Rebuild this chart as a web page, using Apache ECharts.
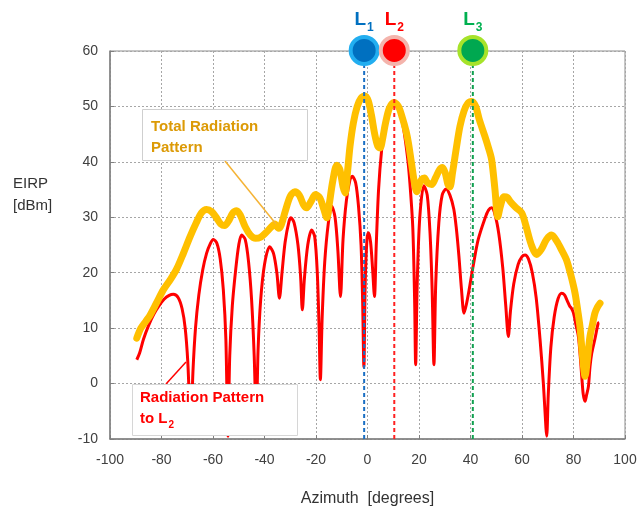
<!DOCTYPE html>
<html>
<head>
<meta charset="utf-8">
<script src="https://cdn.jsdelivr.net/npm/echarts@6/dist/echarts.min.js"></script>
<style>
html,body{margin:0;padding:0;background:#fff;}
#main{width:643px;height:515px;}
</style>
</head>
<body>
<div id="main"></div>
<script>
// ---- data ----
var xTicks = [-100, -80, -60, -40, -20, 0, 20, 40, 60, 80, 100];
var yTicks = [-10, 0, 10, 20, 30, 40, 50, 60];

// Radiation pattern to L2 (red)
var redAz = [-89.6,-88.5,-87,-85,-83,-81,-79,-77,-75.4,-73.5,-72,-70.8,-69.8,-68.6,-67.8,-66.8,-65.5,-64,-62.5,-61,-59.9,-58.5,-57.2,-56,-55,-54.2,-53.5,-52.5,-51.2,-50,-48.9,-47.5,-46.2,-45,-44,-43.2,-42.5,-41.5,-40,-38,-36.5,-35.2,-34.2,-33.2,-32,-30.5,-29.7,-28.5,-27,-26,-25.3,-24.5,-23.2,-21.7,-20.5,-19.5,-18.8,-18.3,-17.6,-16.6,-15.2,-13.9,-12.6,-11.5,-10.5,-9.5,-8.2,-6.8,-5.9,-4.6,-3.5,-2.5,-1.9,-1.4,-0.9,-0.2,0.4,1.2,2.0,2.7,3.4,4.3,5.5,7,8.5,10.3,12,13.8,15.5,16.5,17.6,18.3,18.7,19.3,20.3,21.9,23.2,24.3,25.1,25.8,26.5,27.7,29,30.5,32,33.5,34.5,35.5,36.5,37.5,38.5,39.5,41.1,43,45.6,47,48.2,49.5,51,52.5,53.7,54.7,55.5,56.8,58.5,60,61.2,62.5,64,65.5,67,68.3,69.3,69.6,70.2,71.2,72.5,74,75.4,76.5,77.5,78.5,79.3,80,81,81.9,82.6,83.2,83.8,84.5,85.1,85.8,86.4,87.1,88.3,89.6,90];
var redEirp = [4.3,5.5,8,10.5,12.5,14,15.2,15.9,16.1,15.5,13.5,10,4,-8,2,10,16,20.5,23.5,25.3,26,25.3,22.5,17,8,-9.5,5,14,20.5,25,26.8,26,22,15,5,-7,6,15,21.5,24.7,23.5,20,15.4,20,25.5,29.2,29.9,29,25,19.5,13.3,19,25,27.7,26.5,20,10,0.7,12,22,29,32,30,24,15.7,26,33,36.8,37.4,36.2,32,25,15,3,18,26,27.2,25.5,20.5,15.7,25,35,42.2,47.5,50,50.7,49.8,46.5,41,36,28,15,3.4,18,30,35.7,34,27,17,3.4,18,29,34,35.1,34,31.5,28,23,17,12.7,14.5,17,21.4,26,29.8,31.3,31.7,30.5,27,21,14,8.5,13,18,21.5,22.9,23.2,22.5,20,15.5,8,0,-8,-9.5,-2,6.5,12,15.3,16.3,16,15,14,13.5,12.7,10.5,8.5,5,1.3,-2,-3.2,-2,-0.5,3,5.5,8,10.9,11];

// Total radiation pattern (orange)
var totalAz = [-89.6,-88,-86,-84.5,-82,-79.3,-76.5,-74.1,-71.5,-68.9,-66.5,-64.5,-62.5,-60.5,-58.5,-57,-55.5,-54,-52.3,-50.8,-49.3,-47.5,-45.5,-43.5,-41.5,-39.5,-37.5,-36,-34.5,-33.5,-32,-30,-28.2,-26.5,-24.8,-23.6,-22,-20.2,-18.5,-17,-15.8,-14.8,-13.5,-11.9,-10.8,-9.5,-8.7,-7.8,-6.8,-5.5,-4,-2.5,-1,0.3,1.5,2.8,4,4.9,5.8,7,8.5,10.3,12,13.5,15,15.9,17,18.3,19.1,20,21,22.1,23.2,24.9,26.5,28,29.1,30.2,31.2,32,33,34.5,35.9,37.5,39,40.5,42,43.5,45.6,47,48.2,49.5,50.6,51.6,53,54.2,55.5,57.5,59.9,61.5,63.5,65.7,67.5,69.5,71.5,73.5,75.5,77.3,79,80.6,81.7,82.5,83.5,84.5,85.3,86.4,87.3,88.3,89.3,90.3];
var totalEirp = [8.2,10,11.3,12.3,14.5,16.9,18.8,20.7,23.5,26.5,29,30.8,31.4,31,29.8,28.8,28.5,29.3,30.8,31.2,30.3,28.3,26.8,26.2,26.4,27.2,28.2,28.8,28,28.6,31,33.8,34.6,34,32.2,31.7,32.8,34.1,33.5,31.5,29.9,32.5,36.5,39.4,38.7,35.5,34.4,38,42.8,47,50,51.5,51.9,51,48.5,45,42.8,42.5,44,47,49.7,50.7,50,48,45.5,43.4,40,36,34.6,35.8,36.8,37.1,36.3,35.9,37.2,38.6,39,38,36,35.5,38,42.5,46.4,49.2,50.6,50.9,50,47.5,44.6,42.5,40.4,35,30.1,32,33.7,33.6,32.8,31.8,30.8,28.5,25.2,23.3,24.2,26,26.8,25.7,24,22.3,19.5,16.3,13,10.3,5,1.3,4,8.5,10.5,12.7,13.8,14.5];

// Target directions L1, L2, L3
var targetNames = ['1', '2', '3'];
var targetAz = [-1.3, 10.4, 40.9];
var targetInner = ['#0070c0', '#ff0000', '#00a850'];
var targetOuter = ['#22aef0', '#f4b4ac', '#a6e32a'];
var targetLabel = ['#0070c0', '#ff0000', '#00b050'];
var targetLine = ['#1a6fc4', '#ff2020', '#10a050'];

function pairs(xs, ys){ return xs.map(function(x,i){ return [x, ys[i]]; }); }

var chart = echarts.init(document.getElementById('main'), null, {renderer:'canvas'});
var FONT = 'Liberation Sans, Arial, sans-serif';

var series = [];
series.push({
  name:'Radiation Pattern to L2', type:'line', data:pairs(redAz,redEirp),
  symbol:'none', smooth:0.3, z:4,
  lineStyle:{color:'#ff0000', width:3, join:'round'}
});
series.push({
  name:'Total Radiation Pattern', type:'line', data:pairs(totalAz,totalEirp),
  symbol:'none', smooth:0.3, z:5,
  lineStyle:{color:'#ffc000', width:7, cap:'round', join:'round'}
});
// vertical dashed lines
targetAz.forEach(function(x, i){
  series.push({
    type:'line', data:[[x,-10],[x,60]], symbol:'none', silent:true, z:6,
    lineStyle:{color:targetLine[i], width:2, type:[4,3]}
  });
});
// target markers
targetAz.forEach(function(x, i){
  series.push({
    type:'scatter', data:[[x,60.1]], symbol:'circle', symbolSize:27, clip:false, z:10, silent:true,
    itemStyle:{color:targetInner[i], borderColor:targetOuter[i], borderWidth:4, opacity:1},
    label:{show:true, position:'top', distance:6, formatter:'{a|L}{b|' + targetNames[i] + '}',
      rich:{
        a:{fontFamily:FONT, fontSize:19, fontWeight:'bold', color:targetLabel[i], verticalAlign:'bottom', lineHeight:20},
        b:{fontFamily:FONT, fontSize:12, fontWeight:'bold', color:targetLabel[i], verticalAlign:'bottom', lineHeight:20, padding:[0,0,-5,1]}
      }}
  });
});

chart.setOption({
  animation:false,
  backgroundColor:'#ffffff',
  grid:{left:110, right:18, top:51, bottom:76, show:true, borderColor:'#8c8c8c', borderWidth:1, backgroundColor:'transparent'},
  xAxis:{
    type:'value', min:-100, max:100, interval:20,
    axisLine:{show:true, onZero:false, lineStyle:{color:'#7f7f7f', width:1.5}},
    axisTick:{show:true, inside:true, length:4, lineStyle:{color:'#7f7f7f'}},
    splitLine:{show:true, lineStyle:{color:'#a6a6a6', type:[2,2], width:1}},
    axisLabel:{margin:14, fontFamily:FONT, fontSize:14, color:'#404040',
      formatter:function(v){ return xTicks.indexOf(v) >= 0 ? String(v) : ''; }},
    name:'Azimuth  [degrees]', nameLocation:'middle', nameGap:52,
    nameTextStyle:{fontFamily:FONT, fontSize:16, color:'#333333'}
  },
  yAxis:{
    type:'value', min:-10, max:60, interval:10,
    axisLine:{show:true, onZero:false, lineStyle:{color:'#7f7f7f', width:1.5}},
    axisTick:{show:true, inside:true, length:4, lineStyle:{color:'#7f7f7f'}},
    splitLine:{show:true, lineStyle:{color:'#a6a6a6', type:[2,2], width:1}},
    axisLabel:{margin:12, fontFamily:FONT, fontSize:14, color:'#404040',
      formatter:function(v){ return yTicks.indexOf(v) >= 0 ? String(v) : ''; }}
  },
  graphic:[
    {type:'text', left:13, top:173, z:100, style:{text:'EIRP\n[dBm]', font:'15px ' + FONT, fill:'#333333', lineHeight:22}},
    // Total radiation pattern annotation
    {type:'line', z:100, shape:{x1:225, y1:161, x2:276, y2:224}, style:{stroke:'#f5b335', lineWidth:1.5}},
    {type:'rect', z:101, shape:{x:142.5, y:109.5, width:165, height:51}, style:{fill:'#ffffff', stroke:'#cfcfcf', lineWidth:1}},
    {type:'text', z:102, left:151, top:116, style:{text:'Total Radiation\nPattern', font:'bold 15px ' + FONT, fill:'#dc9a06', lineHeight:21}},
    // Radiation pattern to L2 annotation
    {type:'line', z:100, shape:{x1:166, y1:384, x2:186, y2:362}, style:{stroke:'#ff0000', lineWidth:1.5}},
    {type:'rect', z:101, shape:{x:132.5, y:384.5, width:165, height:51}, style:{fill:'#ffffff', stroke:'#d6d6d6', lineWidth:1}},
    {type:'text', z:102, left:140, top:390, style:{
      text:'{m|Radiation Pattern}\n{m|to L}{s|2}',
      rich:{
        m:{font:'bold 15px ' + FONT, fill:'#ff0000', lineHeight:21, verticalAlign:'bottom'},
        s:{font:'bold 10px ' + FONT, fill:'#ff0000', lineHeight:21, verticalAlign:'bottom', padding:[0,0,-4,1]}
      }}}
  ],
  series:series
});
</script>
</body>
</html>
